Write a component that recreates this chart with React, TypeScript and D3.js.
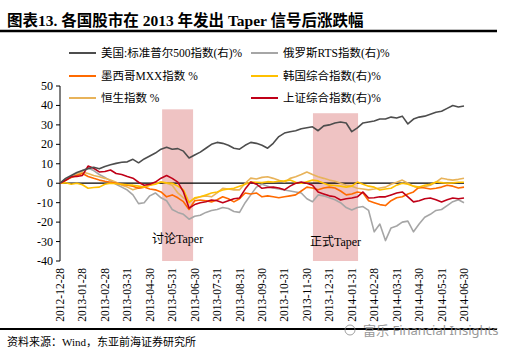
import React from "react";
import * as d3 from "d3";

const tickLabels = [
  "2012-12-28","2013-01-28","2013-02-28","2013-03-31","2013-04-30","2013-05-31","2013-06-30",
  "2013-07-31","2013-08-31","2013-09-30","2013-10-31","2013-11-30","2013-12-31","2014-01-31",
  "2014-02-28","2014-03-31","2014-04-30","2014-05-31","2014-06-30",
];
const yTicks = [50, 40, 30, 20, 10, 0, -10, -20, -30, -40];

// weekly samples, 4 per month interval (73 points)
const usSP500 = [0,2.5,4,5.5,6.5,7.5,8.2,7.4,8.6,9.5,10.2,10.8,11,12.3,10.5,12.5,14,15.5,17.5,18.5,17.5,17.8,16.5,13,14.5,16,18,20,21,20.5,19.5,18,17.5,19.5,21,20.5,19.5,18,20.5,24,25.8,26.5,27,28,28.5,29,27,29.5,30,31,31.5,31,26.5,28.5,31,31.5,32,33,33,34,33.5,34.5,30.5,33,34,34.5,35.5,36.5,37,38.5,40,39.2,39.7];
const russiaRTS = [0,2,3.5,5,6.5,7.8,6.5,4.5,3,1.2,-0.5,-2,-3.5,-6,-10.5,-10,-6.5,-5,-7.5,-9,-13.5,-15,-16,-18.5,-17,-16.5,-15,-14,-13.5,-12.5,-13,-14.5,-15,-10,-6,-2,-0.5,-1.5,-2.5,-3,-3.5,-4,-4.5,-5,-8,-9.5,-6,-6.5,-7.5,-8.5,-10,-12.5,-13.8,-12.5,-12,-14,-25,-21,-29.5,-23,-22,-20,-19.5,-25,-21,-17.5,-16,-14,-13.5,-11.5,-9.5,-8.5,-10];
const mexicoMXX = [0,1.5,3,4,5,3.5,2.5,1.6,1,0.5,0,-0.5,-1,-1.5,-2.6,-2,-3,-3.4,-4.5,-7,-6,-7.5,-9.5,-13.5,-9,-8.6,-9,-9.6,-8.5,-7,-8,-9.6,-8,-5,-5.5,-5,-7,-6.5,-7,-7.5,-7,-6.5,-6,-4,-2,-2.5,-3.4,-2.5,-2,-2.5,-4,-6,-5.5,-4.5,-5,-9,-10,-11,-11.5,-9,-7.5,-7,-5.5,-4.5,-2,-2.5,-3,-2.6,-2,-1,-1.5,-2.5,-2];
const koreaKOSPI = [0,0.2,-0.5,0,-0.8,-2.6,-2.2,-2,-0.5,0,-0.3,-0.5,-0.8,-1,-1.5,-2,-1,-0.5,0.6,0.2,0,-1.5,-3.4,-10,-7.5,-7,-6,-5,-4.5,-3.5,-3,-2.6,-1.5,-0.5,0.6,0.5,0.3,0.8,0.6,1,1.2,1.6,0.5,0,0.8,1.6,1.2,0,-1,-1.2,-1.5,-2,-1.5,0.6,-0.5,-1.5,-2,-3.5,-3,-2.6,-1,0,-0.5,-1.5,-2,-1,-0.5,0.6,0.3,0,0.2,0.5,0.5];
const hangSeng = [0,1.5,3,4.5,5.8,5,4,3.3,2.5,1.6,0.5,-1,-2,-3.4,-2.5,-2,-1,0,0.6,0,-1,-5,-7.5,-9.6,-8,-7,-6.5,-7,-5,-2.6,-3,-3.4,-3.4,0,2.6,2.2,3,3.3,2.5,1.5,0.6,2.5,3.3,4.5,5.8,4.5,3.3,2.5,1.6,1,0,-1,-1.5,-2.6,-3,-3.4,-3,-2.5,-2,-0.5,0.5,1.6,0,-1.5,-2.6,-1.8,-1,0.5,2.6,2,1.6,2,2.6];
const shanghai = [0,1.5,3.3,3.5,4,8.8,7.7,5.8,6,6.8,5,4.5,3.5,2.6,0.5,-1,-0.5,0.6,2.6,4,2.5,0.6,-4.5,-12.8,-11,-10,-9.5,-8.6,-9,-10,-9,-8,-7.6,-3,0.6,-0.5,-2.6,-2.2,-2,-2.5,-3.4,-1.5,0,0.6,0,-1,-4.5,-5.5,-6.5,-7,-8.6,-8,-7.6,-7,-4.5,-7.6,-7.5,-7,-7,-6,-5,-4.5,-7,-9.6,-9,-8,-7.6,-8.5,-9.6,-8.5,-7.6,-8,-7.6];

const seriesNames = [
  "美国:标准普尔500指数(右)%",
  "俄罗斯RTS指数(右)%",
  "墨西哥MXX指数 %",
  "韩国综合指数(右)%",
  "恒生指数 %",
  "上证综合指数(右)%",
];
const seriesColors = ["#4d4d4d", "#a6a6a6", "#ff6a00", "#ffc000", "#e8b35a", "#c00018"];
const seriesData = [usSP500, russiaRTS, mexicoMXX, koreaKOSPI, hangSeng, shanghai];
// drawing order (bottom to top)
const drawOrder = [1, 4, 2, 3, 5, 0];

// shaded periods in tick-index units, top value
const shadeStarts = [4.55, 11.27];
const shadeEnds = [5.93, 13.28];
const shadeTops = [38, 36];
const shadeLabels = ["讨论Taper", "正式Taper"];

const FONT = "'Liberation Serif', 'Times New Roman', 'Noto Sans CJK SC', serif";

export default function App() {
  const W = 506, H = 352;
  const x = d3.scaleLinear().domain([0, 18]).range([60, 464]);
  const y = d3.scaleLinear().domain([-40, 50]).range([261, 86]);
  const line = d3.line<number>().x((_, i) => x(i / 4)).y((d) => y(d));

  const legendPos = [
    [69, 53], [251, 53], [69, 76], [251, 76], [69, 98], [251, 98],
  ];

  return (
    <svg width={W} height={H} style={{ position: "absolute", left: 0, top: 0, background: "#fff" }} fontFamily={FONT}>
      <rect width={W} height={H} fill="#fff" />
      <text x={7} y={26} fontSize={15.5} fontWeight="bold" fill="#000">
        图表13. 各国股市在 2013 年发出 Taper 信号后涨跌幅
      </text>
      <line x1={0} x2={497} y1={31} y2={31} stroke="#000" strokeWidth={2.5} />

      {/* shaded periods */}
      {shadeStarts.map((s, i) => (
        <rect key={i} x={x(s)} y={y(shadeTops[i])} width={x(shadeEnds[i]) - x(s)} height={y(-40) - y(shadeTops[i])} fill="#efc3c3" />
      ))}

      {/* y axis */}
      <line x1={60} x2={60} y1={y(50)} y2={y(-40)} stroke="#000" strokeWidth={1} />
      {yTicks.map((t) => (
        <g key={t}>
          <line x1={56} x2={60} y1={y(t)} y2={y(t)} stroke="#000" />
          <text x={53} y={y(t) + 4} fontSize={12} textAnchor="end" fill="#000">{t}</text>
        </g>
      ))}

      {/* zero line */}
      <line x1={60} x2={464} y1={y(0)} y2={y(0)} stroke="#000" strokeWidth={1.2} />

      {/* x tick labels */}
      {tickLabels.map((lab, i) => (
        <text key={lab} transform={`translate(${x(i) + 4},268) rotate(-90)`} fontSize={11.5} textAnchor="end" fill="#000">
          {lab}
        </text>
      ))}

      {/* series */}
      {drawOrder.map((k) => (
        <path key={k} d={line(seriesData[k]) || ""} fill="none" stroke={seriesColors[k]} strokeWidth={1.6} strokeLinejoin="round" />
      ))}

      {shadeLabels.map((l, i) => (
        <text key={l} x={(x(shadeStarts[i]) + x(shadeEnds[i])) / 2} y={i === 0 ? 243 : 246} fontSize={12} textAnchor="middle" fill="#000">
          {l}
        </text>
      ))}

      {/* legend */}
      {seriesNames.map((n, i) => (
        <g key={n}>
          <line x1={legendPos[i][0]} x2={legendPos[i][0] + 27} y1={legendPos[i][1]} y2={legendPos[i][1]} stroke={seriesColors[i]} strokeWidth={2} />
          <text x={legendPos[i][0] + 32} y={legendPos[i][1] + 4} fontSize={11.5} fill="#000">{n}</text>
        </g>
      ))}

      <line x1={0} x2={497} y1={329} y2={329} stroke="#000" strokeWidth={2} />
      <text x={7} y={346} fontSize={11} fill="#000">资料来源：Wind，东亚前海证券研究所</text>
      <circle cx={350} cy={330} r={5} fill="none" stroke="#888" strokeWidth={1} opacity={0.8} />
      <text x={363} y={335} fontSize={13} fill="#888" opacity={0.85} fontFamily="'Noto Sans', 'Noto Sans CJK SC', sans-serif">富乐 Financial Insights</text>
    </svg>
  );
}
